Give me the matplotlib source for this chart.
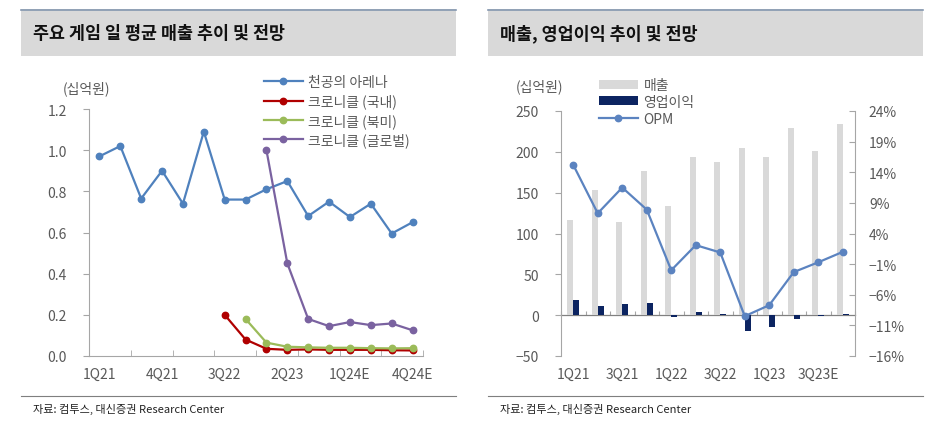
import matplotlib
matplotlib.use("Agg")
import matplotlib.pyplot as plt
from matplotlib.patches import Rectangle
from matplotlib.lines import Line2D
import numpy as np

plt.rcParams['font.family'] = ['Noto Sans CJK KR', 'DejaVu Sans']
plt.rcParams['axes.unicode_minus'] = True

# ---------------- data: left chart ----------------
quarters_l = ['1Q21', '2Q21', '3Q21', '4Q21', '1Q22', '2Q22', '3Q22', '4Q22',
              '1Q23', '2Q23', '3Q23', '4Q23', '1Q24E', '2Q24E', '3Q24E', '4Q24E']
arena = [0.97, 1.02, 0.765, 0.90, 0.74, 1.09, 0.76, 0.76,
         0.81, 0.85, 0.68, 0.75, 0.675, 0.74, 0.595, 0.65]
chron_kr = [None, None, None, None, None, None, 0.20, 0.08,
            0.035, 0.03, 0.032, 0.03, 0.03, 0.03, 0.028, 0.027]
chron_na = [None, None, None, None, None, None, None, 0.18,
            0.065, 0.045, 0.042, 0.04, 0.04, 0.038, 0.037, 0.038]
chron_gl = [None, None, None, None, None, None, None, None,
            1.00, 0.45, 0.18, 0.145, 0.165, 0.15, 0.158, 0.125]
left_names = ['천공의 아레나', '크로니클 (국내)', '크로니클 (북미)', '크로니클 (글로벌)']
left_colors = ['#4F81BD', '#B00000', '#9BBB59', '#7A62A0']
left_yticks = [0.0, 0.2, 0.4, 0.6, 0.8, 1.0, 1.2]

# ---------------- data: right chart ----------------
quarters_r = ['1Q21', '2Q21', '3Q21', '4Q21', '1Q22', '2Q22', '3Q22', '4Q22',
              '1Q23', '2Q23', '3Q23E', '4Q23E']
sales = [117, 153, 114, 177, 134, 194, 187, 205, 194, 229, 201, 234]
op_income = [18.3, 11.4, 13.4, 14.3, -2.0, 4.0, 1.5, -19.0, -14.2, -5.0, -1.0, 1.5]
opm = [15.2, 7.3, 11.5, 7.9, -2.0, 2.1, 0.9, -9.5, -7.7, -2.3, -0.7, 1.0]
right_yticks = [-50, 0, 50, 100, 150, 200, 250]
right_y2ticks = [-16, -11, -6, -1, 4, 9, 14, 19, 24]

W, H = 933, 427
fig = plt.figure(figsize=(W / 100, H / 100), dpi=100)

def fx(px):
    return px / W

def fy(py):
    return 1 - py / H

tick_color = '#595959'
spine_color = '#A6A6A6'
lab_fs = 10
lw = 1.6
ms = 4.6

# ---------- title bands and footers ----------
for (x0, x1, title, fx0) in [(21, 456, '주요 게임 일 평균 매출 추이 및 전망', 33),
                             (488, 923, '매출, 영업이익 추이 및 전망', 500)]:
    fig.patches.append(Rectangle((fx(x0), fy(57)), fx(x1) - fx(x0), fy(10) - fy(57),
                                 transform=fig.transFigure, facecolor='#D9D9D9',
                                 edgecolor='none', zorder=0))
    fig.lines.append(Line2D([fx(x0), fx(x1)], [fy(10.5), fy(10.5)], transform=fig.transFigure,
                            color='#8497B0', lw=1.2))
    fig.text(fx(fx0), fy(34), title, fontsize=12.5, fontweight='bold', color='#111111',
             ha='left', va='center')
    fig.lines.append(Line2D([fx(x0), fx(x1)], [fy(397), fy(397)], transform=fig.transFigure,
                            color='#7F7F7F', lw=0.8))
    fig.text(fx(fx0), fy(409), '자료: 컴투스, 대신증권 Research Center', fontsize=8,
             color='#222222', ha='left', va='center')

# ---------------- left chart ----------------
axL = fig.add_axes([fx(89), fy(357), fx(423) - fx(89), fy(110) - fy(357)])
xl = np.arange(len(quarters_l))
for series, name, col in zip([arena, chron_kr, chron_na, chron_gl], left_names, left_colors):
    vals = np.array([np.nan if v is None else v for v in series], dtype=float)
    axL.plot(xl, vals, color=col, lw=lw, marker='o', markersize=ms, label=name)
axL.set_xlim(-0.5, len(quarters_l) - 0.5)
axL.set_ylim(0, 1.2)
axL.set_yticks(left_yticks)
axL.set_yticklabels([f'{v:.1f}' for v in left_yticks])
axL.set_xticks(xl[::3])
axL.set_xticklabels(quarters_l[::3])
axL.set_xticks(np.arange(-0.5, len(quarters_l), 2), minor=True)
axL.tick_params(axis='x', which='major', length=0, pad=8, labelsize=lab_fs, labelcolor=tick_color)
axL.tick_params(axis='x', which='minor', direction='in', length=4, color=spine_color)
axL.tick_params(axis='y', direction='out', length=4, color=spine_color, pad=12,
                labelsize=lab_fs, labelcolor=tick_color)
for s in ['top', 'right']:
    axL.spines[s].set_visible(False)
for s in ['left', 'bottom']:
    axL.spines[s].set_color(spine_color)
axL.patch.set_alpha(0)
fig.text(fx(63), fy(89), '(십억원)', fontsize=lab_fs, color=tick_color, ha='left', va='center')
axL.legend(loc='upper left', bbox_to_anchor=(fx(264), fy(76)), bbox_transform=fig.transFigure,
           frameon=False, fontsize=lab_fs, labelcolor=tick_color, handlelength=2.8,
           handletextpad=0.4, labelspacing=0.33, borderpad=0, borderaxespad=0)

# ---------------- right chart ----------------
axR = fig.add_axes([fx(561), fy(357), fx(855) - fx(561), fy(112) - fy(357)])
xr = np.arange(len(quarters_r))
bw = 0.24
axR.bar(xr - bw / 2, sales, width=bw, color='#D9D9D9', label='매출', zorder=2)
axR.bar(xr + bw / 2, op_income, width=bw, color='#0C2461', label='영업이익', zorder=3)
axR.set_xlim(-0.5, len(quarters_r) - 0.5)
axR.set_ylim(-50, 250)
axR.set_yticks(right_yticks)
axR.set_yticklabels([f'{v}'.replace('-', '\u2212') for v in right_yticks])
axR.set_xticks(xr[::2])
axR.set_xticklabels(quarters_r[::2])
axR.tick_params(axis='x', length=0, pad=8, labelsize=lab_fs, labelcolor=tick_color)
axR.tick_params(axis='y', direction='out', length=4, color=spine_color, pad=12,
                labelsize=lab_fs, labelcolor=tick_color)
for s in ['top', 'right', 'bottom']:
    axR.spines[s].set_visible(False)
axR.spines['left'].set_color(spine_color)
axR.patch.set_alpha(0)

# zero line with boundary ticks
ylo, yhi = axR.get_ylim()
sec = axR.secondary_xaxis((0 - ylo) / (yhi - ylo))
sec.set_xticks(np.arange(-0.5, len(quarters_r), 1))
sec.tick_params(direction='in', length=3, color=spine_color, labelbottom=False)
sec.spines['bottom'].set_color('#808080')
sec.spines['bottom'].set_linewidth(0.9)

ax2 = axR.twinx()
ax2.plot(xr, opm, color='#5B83C0', lw=lw, marker='o', markersize=ms, label='OPM', zorder=5)
ax2.set_ylim(-16, 24)
ax2.set_yticks(right_y2ticks)
ax2.set_yticklabels([f'{v}%'.replace('-', '\u2212') for v in right_y2ticks])
ax2.tick_params(axis='y', direction='in', length=4, color=spine_color, pad=10,
                labelsize=lab_fs, labelcolor=tick_color)
for s in ['top', 'left', 'bottom']:
    ax2.spines[s].set_visible(False)
ax2.spines['right'].set_color(spine_color)

fig.text(fx(516), fy(87), '(십억원)', fontsize=lab_fs, color=tick_color, ha='left', va='center')
h1, l1 = axR.get_legend_handles_labels()
h2, l2 = ax2.get_legend_handles_labels()
ax2.legend(h1 + h2, l1 + l2, loc='upper left', bbox_to_anchor=(fx(599), fy(79)),
           bbox_transform=fig.transFigure, frameon=False, fontsize=lab_fs,
           labelcolor=tick_color, handlelength=2.8, handleheight=0.6, handletextpad=0.4,
           labelspacing=0.2, borderpad=0, borderaxespad=0)

fig.savefig('out.png', dpi=100)
